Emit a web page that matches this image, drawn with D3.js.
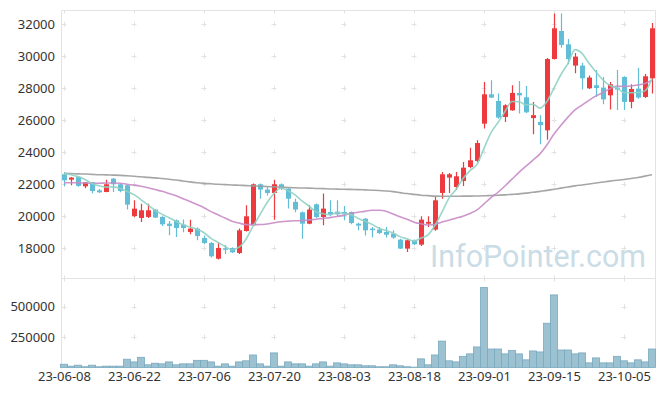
<!DOCTYPE html>
<html><head><meta charset="utf-8">
<script src="https://cdn.jsdelivr.net/npm/d3@7"></script>
<style>body{margin:0;background:#fff}svg{display:block;font-family:"Noto Sans",sans-serif}</style>
</head><body><svg id="c" width="665" height="396"></svg>
<script>
const dates = ["23-06-08","23-06-09","23-06-12","23-06-13","23-06-14","23-06-15","23-06-16","23-06-19","23-06-20","23-06-21","23-06-22","23-06-23","23-06-26","23-06-27","23-06-28","23-06-29","23-06-30",
"23-07-03","23-07-04","23-07-05","23-07-06","23-07-07","23-07-10","23-07-11","23-07-12","23-07-13","23-07-14","23-07-17","23-07-18","23-07-19","23-07-20","23-07-21","23-07-24","23-07-25","23-07-26","23-07-27","23-07-28","23-07-31",
"23-08-01","23-08-02","23-08-03","23-08-04","23-08-07","23-08-08","23-08-09","23-08-10","23-08-11","23-08-14","23-08-16","23-08-17","23-08-18","23-08-21","23-08-22","23-08-23","23-08-24","23-08-25","23-08-28","23-08-29","23-08-30","23-08-31",
"23-09-01","23-09-04","23-09-05","23-09-06","23-09-07","23-09-08","23-09-11","23-09-12","23-09-13","23-09-14","23-09-15","23-09-18","23-09-19","23-09-20","23-09-21","23-09-22","23-09-25","23-09-26","23-09-27",
"23-10-04","23-10-05","23-10-06","23-10-10","23-10-11","23-10-12"];
const opens = [22625,22290,22460,21875,22125,21625,21520,22350,22000,21940,20020,19895,19960,20420,19960,19540,19750,19480,19020,19230,
18645,18330,17350,18000,18020,17710,19080,19440,22000,21670,21460,22000,21730,20900,20250,19540,20750,19960,20270,20290,
20270,20270,19540,19850,19230,19170,19020,18920,18540,17980,18500,18230,19540,19170,21460,22420,21830,22210,23080,23460,
25790,27625,27210,26210,26625,27710,27440,26140,25900,25375,29830,31580,30750,29420,29420,28000,28190,28040,27560,28040,
28710,27150,27980,27460,28625];
const highs = [22770,22460,22500,22150,22150,21700,22290,22400,22050,21950,21000,20790,20790,20450,20000,19700,19800,19800,19790,19300,
18800,18400,18400,18200,18050,19230,20690,22050,22050,21850,22290,22050,21750,21100,20300,20690,20800,21420,21000,21000,
20650,20300,19600,19900,19330,19330,19330,19125,18600,18550,18550,20000,20000,21210,22770,22700,22770,23400,24290,24750,
28400,28500,27670,27000,28190,28460,28150,27150,26310,29900,32670,32670,31080,30200,29600,28800,29140,28700,28400,29140,
28750,28250,29290,28900,32080];
const lows = [21875,21940,21850,21750,21420,21450,21500,21520,21500,20420,19950,19645,19900,19900,19400,18810,18710,19000,18875,18500,
18250,17420,17300,17650,17700,17650,19050,19400,21100,21300,19790,21650,20480,20250,18600,19500,19900,19440,20000,20000,
19750,19500,19125,18800,18670,18900,18670,18600,17950,17770,18200,18150,19330,19100,21100,21460,21650,21900,23000,23400,
25480,27400,26100,25900,26600,26420,26450,25125,24500,24790,29800,30540,29500,28940,27920,27950,27460,27000,26670,26640,
26640,26750,27350,27400,27670];
const closes = [22250,22420,21900,22125,21580,21500,22000,22000,21580,20730,20480,20375,20375,19920,19500,19400,19270,19270,19230,18770,
18330,17500,18020,17950,17750,19125,20000,22000,21670,21460,22000,21730,21100,20420,19540,20420,19960,20480,20125,20125,
20170,19580,19420,19125,19190,18960,18850,18670,17980,18500,18250,19790,19650,21000,22625,22625,22500,23040,23500,24580,
27625,27420,26170,26940,27710,27560,26500,26320,25700,29830,31750,30710,29830,29980,28625,28670,28020,27310,28250,27920,
27150,27960,27420,28750,31750];
const volumes = [27000,11000,19000,6000,19000,6000,11000,11000,11000,68000,46000,84000,22000,35000,30000,46000,22000,30000,30000,59000,
59000,46000,11000,30000,11000,46000,55000,103000,30000,11000,120000,11000,46000,30000,30000,11000,30000,46000,11000,38000,
30000,22000,22000,14000,14000,6000,6000,22000,14000,6000,3000,71000,22000,103000,217000,55000,46000,92000,112000,169000,
657000,152000,152000,112000,141000,112000,63000,136000,128000,364000,597000,144000,144000,112000,120000,38000,79000,38000,38000,92000,
55000,38000,63000,46000,152000];
const ma5 = [22670,22600,22480,22300,22055,21905,21821,21841,21732,21562,21358,21033,20708,20376,20130,19914,19693,19472,19334,19188,
18974,18620,18370,18114,17910,18069,18569,19365,20109,20851,21426,21772,21592,21342,20958,20642,20288,20164,20105,20222,
20172,20096,19884,19684,19497,19255,19109,18959,18730,18592,18450,18638,18834,19438,20263,21138,21680,22358,22858,23249,
24249,25233,25859,26547,27173,27160,26976,27006,26758,27182,28020,28862,29564,30420,30179,29563,29025,28521,28175,28034,
27730,27718,27740,27840,28606];
const ma20 = [22100,22100,22090,22080,22070,22070,22080,22080,22070,22000,21950,21880,21780,21670,21560,21420,21280,21100,20920,20734,
20538,20292,20098,19889,19698,19579,19479,19479,19483,19520,19596,19664,19700,19725,19727,19778,19812,19873,19918,19985,
20077,20181,20251,20310,20382,20374,20316,20150,19965,19817,19630,19533,19460,19489,19644,19754,19881,20009,20178,20400,
20773,21165,21503,21893,22319,22749,23132,23514,23900,24467,25142,25688,26197,26646,26946,27248,27524,27738,27975,28142,
28118,28145,28208,28298,28500];
const ma60 = [22680,22670,22650,22640,22620,22600,22590,22575,22560,22530,22500,22470,22430,22400,22360,22320,22270,22210,22150,22100,
22060,22030,22000,21980,21960,21940,21920,21900,21880,21860,21840,21820,21800,21780,21770,21760,21740,21730,21710,21700,
21690,21680,21670,21650,21630,21610,21580,21540,21480,21420,21370,21320,21290,21260,21250,21250,21250,21260,21260,21270,
21280,21300,21320,21340,21370,21400,21450,21500,21560,21620,21690,21760,21830,21900,21960,22020,22080,22140,22200,22250,
22300,22360,22430,22510,22600];
const priceTicks = [18000,20000,22000,24000,26000,28000,30000,32000];
const volTicks = [250000,500000];
const xTicks = ["23-06-08","23-06-22","23-07-06","23-07-20","23-08-03","23-08-18","23-09-01","23-09-15","23-10-05"];

const svg = d3.select("#c");
const L = 61.5, R = 655.5, T = 10.5, MID = 278.5, B = 367.5;
const x = d3.scalePoint().domain(dates).range([64, 652]);
const y = d3.scaleLinear().domain([18000, 32000]).range([248.3, 24.3]);
const yv = d3.scaleLinear().domain([0, 500000]).range([367.5, 306.7]);
const UP = "#ec3a3e", DOWN = "#62bdd7";

svg.append("defs").append("clipPath").attr("id","pc").append("rect")
  .attr("x", L).attr("y", T).attr("width", R-L).attr("height", MID-T);

// watermark
svg.append("text").attr("x", 430).attr("y", 266.7).attr("font-size", 32)
  .attr("font-family", "Roboto, sans-serif")
  .attr("textLength", 216).attr("lengthAdjust", "spacingAndGlyphs")
  .attr("fill", "#cadce6").text("InfoPointer.com");

// frame
const frame = svg.append("g").attr("stroke", "#e3e3e3").attr("fill", "none");
frame.append("path").attr("d", `M${L},${T}H${R}V${B}`);
frame.append("line").attr("x1", L).attr("x2", R).attr("y1", MID).attr("y2", MID);
frame.append("line").attr("x1", L).attr("x2", L).attr("y1", T).attr("y2", B+1);

// grid plus marks
const plus = svg.append("g").attr("stroke", "#e2e2e2").attr("stroke-width", 1);
const pts = [];
xTicks.forEach(d => { priceTicks.forEach(v => pts.push([x(d), y(v)])); volTicks.forEach(v => pts.push([x(d), yv(v)])); });
pts.forEach(([px, py]) => {
  plus.append("path").attr("d", `M${px-2.5},${Math.round(py)+0.5}h5M${Math.round(px)+0.5},${py-2.5}v5`);
});
xTicks.forEach(d => {
  const px = Math.round(x(d)) + 0.5;
  plus.append("path").attr("d", `M${px},${T}v3M${px},${MID-3}v6`);
});

// volume bars
svg.append("g").selectAll("rect").data(dates).join("rect")
  .attr("x", d => x(d) - 3.5).attr("width", 7)
  .attr("y", (d, i) => yv(volumes[i])).attr("height", (d, i) => yv(0) - yv(volumes[i]))
  .attr("fill", "#9cc2d2").attr("stroke", "#79a8bf").attr("stroke-width", 0.8);

// candles
const cg = svg.append("g").attr("clip-path", "url(#pc)");
const cs = cg.selectAll("g").data(dates).join("g");
cs.append("line")
  .attr("x1", d => Math.round(x(d)) + 0.5).attr("x2", d => Math.round(x(d)) + 0.5)
  .attr("y1", (d, i) => y(highs[i])).attr("y2", (d, i) => y(lows[i]))
  .attr("stroke", (d, i) => closes[i] >= opens[i] ? UP : DOWN).attr("stroke-width", 1.2);
cs.append("rect")
  .attr("x", d => Math.round(x(d)) - 2).attr("width", 5)
  .attr("y", (d, i) => y(Math.max(opens[i], closes[i])))
  .attr("height", (d, i) => Math.max(1.5, Math.abs(y(opens[i]) - y(closes[i]))))
  .attr("fill", (d, i) => closes[i] >= opens[i] ? UP : DOWN);

// moving averages
const line = arr => d3.line().x((d, i) => x(dates[i])).y(d => y(d)).curve(d3.curveMonotoneX)(arr);
const lg = svg.append("g").attr("clip-path", "url(#pc)").attr("fill", "none").attr("stroke-width", 1.6);
lg.append("path").attr("d", line(ma60)).attr("stroke", "#9c9c9c").attr("stroke-opacity", 0.9);
lg.append("path").attr("d", line(ma20)).attr("stroke", "#c88bc6").attr("stroke-opacity", 0.9);
lg.append("path").attr("d", line(ma5)).attr("stroke", "#8fd2c4").attr("stroke-opacity", 0.9);

// axes
const fmt = d3.format("d");
const ya = svg.append("g").attr("transform", `translate(${L},0)`)
  .call(d3.axisLeft(y).tickValues(priceTicks).tickFormat(fmt).tickSize(0).tickPadding(6.5));
const va = svg.append("g").attr("transform", `translate(${L},0)`)
  .call(d3.axisLeft(yv).tickValues(volTicks).tickFormat(fmt).tickSize(0).tickPadding(6.5));
const xa = svg.append("g").attr("transform", `translate(0,${B})`)
  .call(d3.axisBottom(x).tickValues(xTicks).tickSize(0).tickPadding(4.5));
[ya, va, xa].forEach(g => {
  g.select(".domain").remove();
  g.selectAll("text").attr("font-size", 13).attr("fill", "#333").attr("font-family", "\"Noto Sans\",sans-serif");
});
</script></body></html>
